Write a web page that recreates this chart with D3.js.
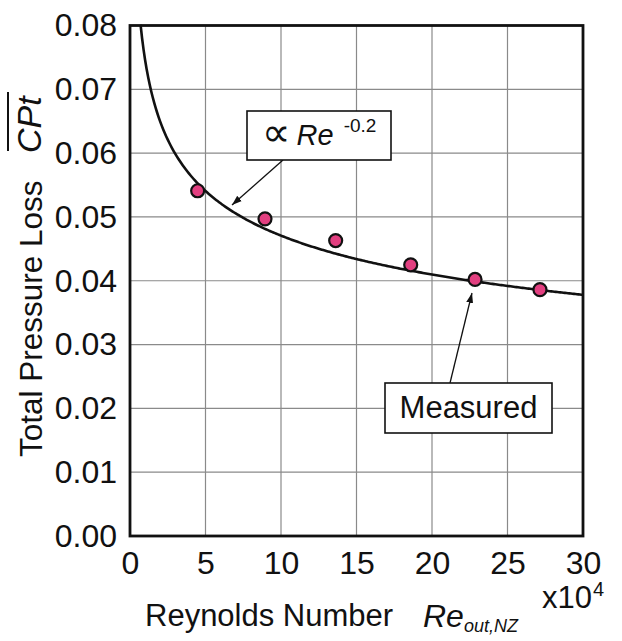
<!DOCTYPE html>
<html>
<head>
<meta charset="utf-8">
<script src="https://cdn.jsdelivr.net/npm/d3@7"></script>
<style>
  html, body { margin: 0; padding: 0; background: #fff; }
  svg { display: block; }
  text { font-family: "Liberation Sans", Arial, Helvetica, sans-serif; fill: #111; }
</style>
</head>
<body>
<svg id="chart" width="622" height="641"></svg>
<script>
// Measured total pressure loss vs. outlet Reynolds number (x10^4)
const reynolds = [4.48, 8.94, 13.62, 18.59, 22.85, 27.15];
const pressureLoss = [0.0541, 0.0497, 0.0463, 0.0425, 0.0402, 0.0386];

// Power-law trend line: CPt = coef * Re^exponent
const fitExponent = -0.2;
const fitCoef = 0.0746;

const xTicks = [0, 5, 10, 15, 20, 25, 30];
const yTicks = [0.00, 0.01, 0.02, 0.03, 0.04, 0.05, 0.06, 0.07, 0.08];

const svg = d3.select("#chart");
const plot = { left: 130, right: 583, top: 25.5, bottom: 536 };

const x = d3.scaleLinear().domain([0, 30]).range([plot.left, plot.right]);
const y = d3.scaleLinear().domain([0, 0.08]).range([plot.bottom, plot.top]);

// Grid
const grid = svg.append("g").attr("stroke", "#8a8a8a").attr("stroke-width", 1.2);
grid.selectAll("line.gx").data(xTicks.slice(1, -1)).join("line")
  .attr("x1", d => x(d)).attr("x2", d => x(d))
  .attr("y1", plot.top).attr("y2", plot.bottom);
grid.selectAll("line.gy").data(yTicks.slice(1, -1)).join("line")
  .attr("x1", plot.left).attr("x2", plot.right)
  .attr("y1", d => y(d)).attr("y2", d => y(d));

// Axes (labels only, frame drawn separately)
const xAxis = svg.append("g")
  .attr("transform", `translate(0,${plot.bottom})`)
  .call(d3.axisBottom(x).tickValues(xTicks).tickFormat(d3.format("d")).tickSize(0).tickPadding(15));
const yAxis = svg.append("g")
  .attr("transform", `translate(${plot.left},0)`)
  .call(d3.axisLeft(y).tickValues(yTicks).tickFormat(d3.format(".2f")).tickSize(0).tickPadding(13));
[xAxis, yAxis].forEach(a => {
  a.select(".domain").remove();
  a.selectAll("text").attr("font-size", 32).attr("fill", "#111")
    .attr("font-family", "'Liberation Sans', Arial, sans-serif");
});

// Trend curve
const curveX = d3.range(0.7, 30.001, 0.1);
const line = d3.line().x(d => x(d)).y(d => y(fitCoef * Math.pow(d, fitExponent)));
svg.append("path").datum(curveX)
  .attr("d", line).attr("fill", "none")
  .attr("stroke", "#111").attr("stroke-width", 2.6);

// Frame
svg.append("rect")
  .attr("x", plot.left).attr("y", plot.top)
  .attr("width", plot.right - plot.left).attr("height", plot.bottom - plot.top)
  .attr("fill", "none").attr("stroke", "#111").attr("stroke-width", 2.8);

// Measured points
svg.append("g").selectAll("circle").data(reynolds).join("circle")
  .attr("cx", d => x(d)).attr("cy", (d, i) => y(pressureLoss[i]))
  .attr("r", 6.5).attr("fill", "#e23f80")
  .attr("stroke", "#111").attr("stroke-width", 2.2);

// Arrow marker
svg.append("defs").append("marker")
  .attr("id", "arrow").attr("viewBox", "0 0 10 10")
  .attr("refX", 10).attr("refY", 5)
  .attr("markerWidth", 10).attr("markerHeight", 10)
  .attr("markerUnits", "userSpaceOnUse")
  .attr("orient", "auto")
  .append("path").attr("d", "M0,1.5 L10,5 L0,8.5 Z").attr("fill", "#111");

// Trend annotation
svg.append("line")
  .attr("x1", 283).attr("y1", 160).attr("x2", 232).attr("y2", 205)
  .attr("stroke", "#111").attr("stroke-width", 1.3).attr("marker-end", "url(#arrow)");
svg.append("rect")
  .attr("x", 247).attr("y", 111).attr("width", 144).attr("height", 49)
  .attr("fill", "#fff").attr("stroke", "#111").attr("stroke-width", 1.6);
const trendLabel = svg.append("text").attr("x", 262).attr("y", 145).attr("font-size", 29);
trendLabel.append("tspan").attr("font-family", "'DejaVu Sans', sans-serif").attr("font-size", 40).attr("dy", 1).text("\u221D");
trendLabel.append("tspan").attr("font-style", "italic").attr("dx", 6).attr("dy", -1).text("Re");
trendLabel.append("tspan").attr("font-size", 19).attr("dx", 10).attr("dy", -13).text("-0.2");

// Measured annotation
svg.append("line")
  .attr("x1", 450).attr("y1", 383).attr("x2", 472).attr("y2", 293)
  .attr("stroke", "#111").attr("stroke-width", 1.3).attr("marker-end", "url(#arrow)");
svg.append("rect")
  .attr("x", 385).attr("y", 383).attr("width", 167).attr("height", 50)
  .attr("fill", "#fff").attr("stroke", "#111").attr("stroke-width", 1.6);
svg.append("text").attr("x", 468.5).attr("y", 418).attr("text-anchor", "middle")
  .attr("font-size", 31).text("Measured");

// X axis title
svg.append("text").attr("x", 145).attr("y", 626).attr("font-size", 31).text("Reynolds Number");
const reLabel = svg.append("text").attr("x", 423).attr("y", 627).attr("font-size", 32).attr("font-style", "italic");
reLabel.append("tspan").text("Re");
reLabel.append("tspan").attr("font-size", 18).attr("dy", 5).text("out,NZ");

// Multiplier
const mult = svg.append("text").attr("x", 542).attr("y", 608).attr("font-size", 31);
mult.append("tspan").text("x10");
mult.append("tspan").attr("font-size", 20).attr("dy", -12).attr("dx", 1).text("4");

// Y axis title
svg.append("text")
  .attr("transform", "translate(42,457) rotate(-90)")
  .attr("font-size", 31.5).text("Total Pressure Loss");
svg.append("text")
  .attr("transform", "translate(41,153) rotate(-90)")
  .attr("font-size", 34).attr("font-style", "italic").text("CPt");
svg.append("line")
  .attr("x1", 8).attr("x2", 8).attr("y1", 92).attr("y2", 151)
  .attr("stroke", "#111").attr("stroke-width", 2);
</script>
</body>
</html>
